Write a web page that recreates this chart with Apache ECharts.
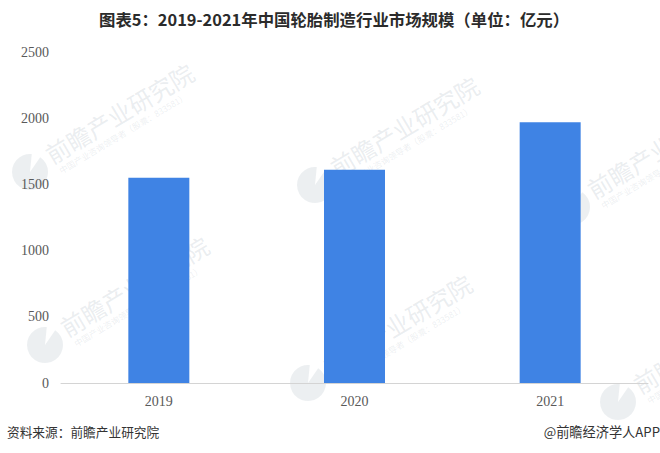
<!DOCTYPE html>
<html lang="zh">
<head>
<meta charset="utf-8"/>
<title>图表5</title>
<style>html,body{margin:0;padding:0;background:#fff}#main{width:660px;height:453px}</style>
<script src="https://cdn.jsdelivr.net/npm/echarts@6/dist/echarts.min.js"></script>
</head>
<body>
<div id="main"></div>
<script>
const years = ['2019', '2020', '2021'];
const sizes = [1550, 1610, 1970];
const yMin = 0, yMax = 2500, yStep = 500;
const titleText = '图表5：2019-2021年中国轮胎制造行业市场规模（单位：亿元）';
const sourceText = '资料来源：前瞻产业研究院';
const brandText = '@前瞻经济学人APP';
const markText = '前瞻产业研究院';
const markSub = '中国产业咨询领导者（股票：833581）';
const markPlaces = [[30, 172], [315, 185], [572, 207], [45, 345], [308, 383], [618, 402]];
const markAngle = 0.54;

// faint logo + name + tagline, all turned together about the logo
function watermark(p) {
    return {
        type: 'group', x: p[0], y: p[1], rotation: markAngle, z: 10, silent: true,
        children: [
            {
                type: 'sector',
                shape: { cx: 0, cy: 0, r0: 0, r: 18, startAngle: -0.43, endAngle: 5.35 },
                style: { fill: 'rgba(150,165,180,0.18)' }
            },
            { type: 'text', x: 23, y: -17, style: { text: markText, font: '24px "Noto Sans CJK SC"', fill: 'rgba(150,165,180,0.2)' } },
            { type: 'text', x: 26, y: 10, style: { text: markSub, font: '8.5px "Noto Sans CJK SC"', fill: 'rgba(150,165,180,0.18)' } }
        ]
    };
}

const chart = echarts.init(document.getElementById('main'), null, { renderer: 'svg' });
chart.setOption({
    animation: false,
    title: {
        text: titleText, left: 94, top: 6,
        textStyle: { fontFamily: 'Noto Sans CJK SC', fontSize: 16.4, fontWeight: 'bold', color: '#2b2b2b' }
    },
    grid: { left: 61, right: 12, top: 52, bottom: 70 },
    xAxis: {
        type: 'category', data: years,
        axisLine: { lineStyle: { color: '#d4d4d4' } },
        axisTick: { show: false },
        axisLabel: { fontFamily: 'Liberation Serif', fontSize: 14, color: '#595959', margin: 11 }
    },
    yAxis: {
        type: 'value', min: yMin, max: yMax, interval: yStep,
        axisLine: { show: false }, axisTick: { show: false }, splitLine: { show: false },
        axisLabel: { fontFamily: 'Liberation Serif', fontSize: 14, color: '#595959', margin: 12, formatter: v => String(v) }
    },
    series: [{ type: 'bar', data: sizes, barWidth: 61, itemStyle: { color: '#3f83e4' } }],
    graphic: [
        { type: 'text', left: 7, top: 425, style: { text: sourceText, font: '12.7px "Noto Sans CJK SC"', fill: '#333' } },
        { type: 'text', right: 0, top: 425, style: { text: brandText, font: '13.2px "Noto Sans CJK SC"', fill: '#333' } }
    ].concat(markPlaces.map(watermark))
});
</script>
</body>
</html>
